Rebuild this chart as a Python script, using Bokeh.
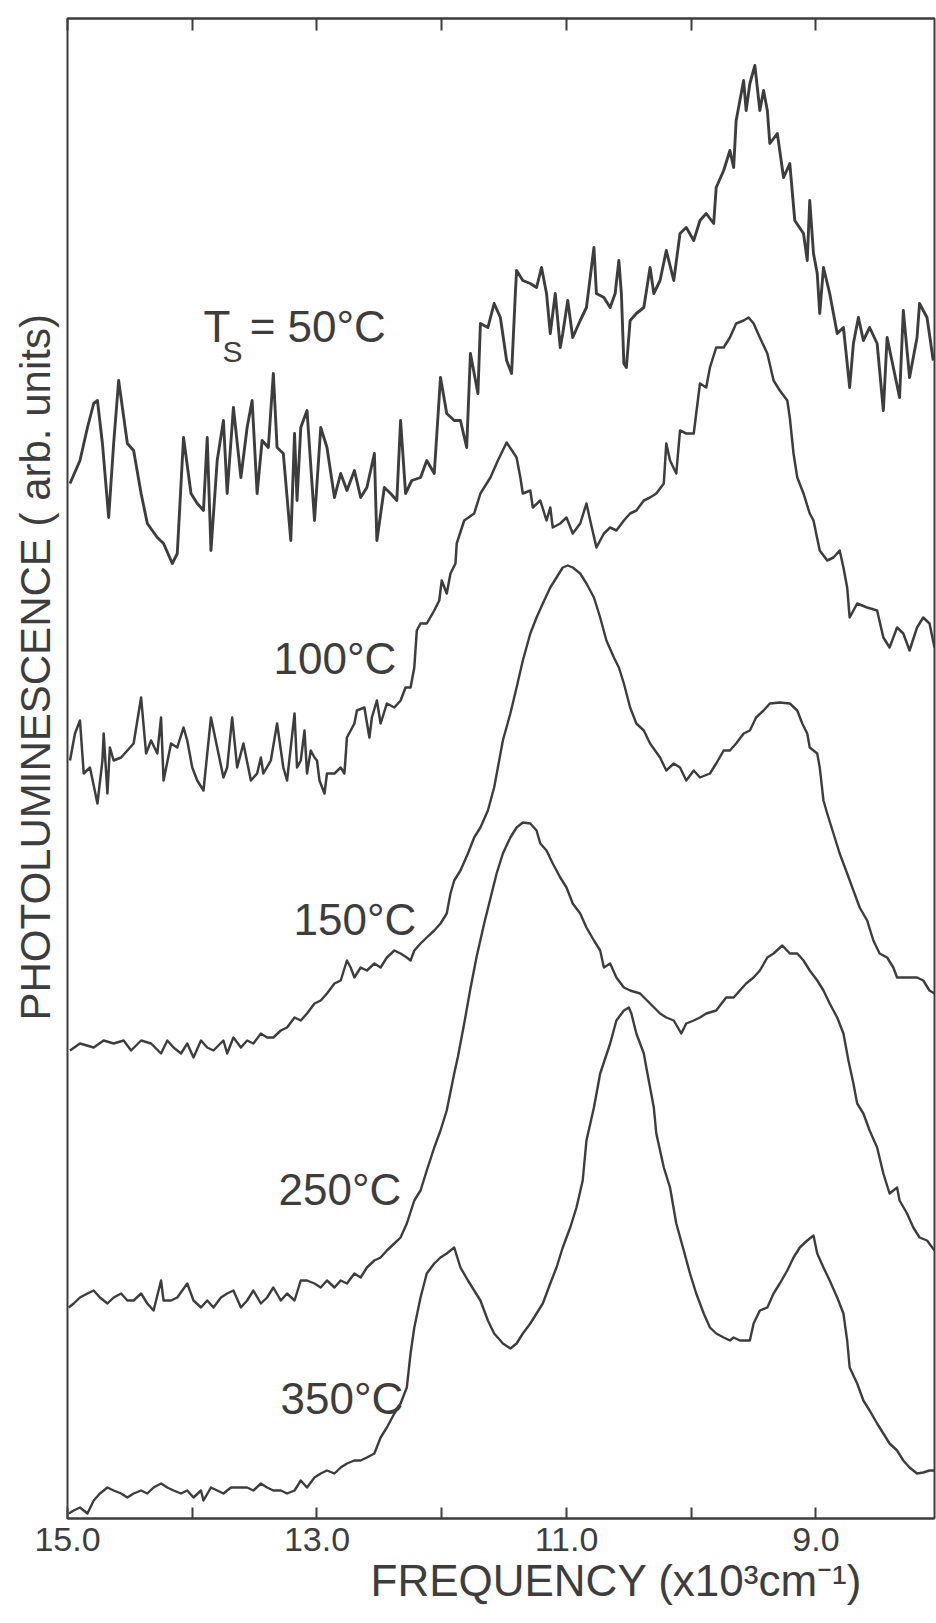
import math
from bokeh.plotting import figure
from bokeh.models import Range1d, LinearAxis, FixedTicker, Label, Title
from bokeh.embed import file_html
from bokeh.resources import INLINE

# ---------------- data ----------------
x_ticks = [15.0, 14.0, 13.0, 12.0, 11.0, 10.0, 9.0]
tick_labels = {15.0: "15.0", 14.0: "", 13.0: "13.0", 12.0: "", 11.0: "11.0", 10.0: "", 9.0: "9.0"}

x50 = [14.98, 14.90, 14.84, 14.79, 14.76, 14.72, 14.67, 14.63, 14.59, 14.52, 14.47, 14.41, 14.36, 14.28,
       14.23, 14.16, 14.12, 14.07, 14.01, 13.96, 13.91, 13.88, 13.85, 13.80, 13.75, 13.72, 13.67, 13.61,
       13.56, 13.52, 13.48, 13.44, 13.39, 13.35, 13.32, 13.27, 13.21, 13.18, 13.16, 13.13, 13.08, 13.02,
       12.97, 12.92, 12.86, 12.81, 12.76, 12.70, 12.65, 12.60, 12.54, 12.52, 12.46, 12.41, 12.36, 12.33,
       12.29, 12.24, 12.17, 12.12, 12.06, 12.01, 11.96, 11.90, 11.85, 11.80, 11.77, 11.71, 11.69, 11.63,
       11.58, 11.53, 11.48, 11.44, 11.41, 11.40, 11.35, 11.29, 11.24, 11.20, 11.16, 11.13, 11.09, 11.05,
       11.03, 10.99, 10.95, 10.89, 10.84, 10.78, 10.76, 10.70, 10.65, 10.61, 10.58, 10.56, 10.54, 10.52,
       10.49, 10.44, 10.38, 10.33, 10.30, 10.25, 10.20, 10.14, 10.09, 10.04, 9.98, 9.93, 9.88, 9.82,
       9.80, 9.74, 9.69, 9.66, 9.64, 9.58, 9.56, 9.53, 9.49, 9.45, 9.42, 9.39, 9.37, 9.31, 9.26, 9.21,
       9.17, 9.10, 9.07, 9.05, 9.02, 8.99, 8.97, 8.94, 8.89, 8.83, 8.78, 8.73, 8.70, 8.66, 8.62, 8.57,
       8.51, 8.46, 8.43, 8.38, 8.33, 8.30, 8.25, 8.19, 8.17, 8.11, 8.06]
y50 = [10.35, 10.58, 10.91, 11.15, 11.18, 10.75, 10.01, 10.75, 11.38, 10.75, 10.68, 10.25, 9.95, 9.81,
       9.75, 9.55, 9.65, 10.81, 10.25, 10.15, 10.08, 10.81, 9.68, 10.58, 10.98, 10.25, 11.11, 10.41,
       10.91, 11.18, 10.25, 10.78, 10.71, 11.45, 10.71, 10.65, 9.78, 10.85, 10.18, 10.91, 11.08, 9.98,
       10.91, 10.71, 10.21, 10.45, 10.28, 10.48, 10.21, 10.31, 10.65, 9.78, 10.31, 10.25, 10.18, 10.98,
       10.25, 10.38, 10.41, 10.58, 10.45, 11.41, 11.05, 10.98, 10.98, 10.71, 11.65, 11.25, 11.95, 11.91,
       12.15, 12.01, 11.58, 11.45, 12.25, 12.48, 12.38, 12.35, 12.31, 12.51, 12.25, 11.85, 12.25, 11.71,
       11.85, 12.18, 11.81, 11.98, 12.11, 12.71, 12.25, 12.21, 12.11, 12.25, 12.58, 12.25, 11.55, 11.51,
       11.98, 12.05, 12.11, 12.51, 12.25, 12.38, 12.68, 12.38, 12.85, 12.91, 12.78, 12.98, 13.05, 12.95,
       13.31, 13.48, 13.68, 13.51, 13.98, 14.38, 14.08, 14.35, 14.53, 14.08, 14.28, 14.08, 13.75, 13.85,
       13.41, 13.55, 12.98, 12.85, 12.58, 13.18, 12.65, 12.45, 12.05, 12.51, 12.25, 11.85, 11.91, 11.31,
       11.75, 12.01, 11.78, 11.91, 11.75, 11.08, 11.81, 11.51, 11.21, 12.08, 11.41, 11.81, 12.15, 12.01,
       11.58]

x100 = [14.98, 14.94, 14.90, 14.87, 14.82, 14.76, 14.72, 14.71, 14.68, 14.66, 14.63, 14.57, 14.52, 14.47,
        14.41, 14.37, 14.33, 14.28, 14.25, 14.23, 14.17, 14.12, 14.07, 14.04, 14.00, 13.96, 13.91, 13.85,
        13.80, 13.75, 13.72, 13.68, 13.64, 13.59, 13.53, 13.48, 13.45, 13.43, 13.37, 13.32, 13.27, 13.24,
        13.18, 13.16, 13.13, 13.10, 13.08, 13.05, 13.02, 13.00, 12.98, 12.94, 12.92, 12.86, 12.81, 12.78,
        12.76, 12.70, 12.68, 12.62, 12.58, 12.56, 12.52, 12.49, 12.44, 12.38, 12.33, 12.29, 12.25, 12.22,
        12.20, 12.17, 12.12, 12.06, 12.02, 12.00, 11.96, 11.93, 11.89, 11.88, 11.82, 11.74, 11.69, 11.61,
        11.55, 11.48, 11.40, 11.37, 11.35, 11.29, 11.27, 11.21, 11.16, 11.13, 11.11, 11.05, 11.00, 10.95,
        10.89, 10.84, 10.81, 10.76, 10.70, 10.65, 10.60, 10.54, 10.49, 10.44, 10.38, 10.33, 10.28, 10.22,
        10.20, 10.17, 10.12, 10.09, 10.04, 9.98, 9.96, 9.93, 9.88, 9.85, 9.80, 9.74, 9.69, 9.64, 9.58,
        9.54, 9.50, 9.45, 9.39, 9.34, 9.29, 9.23, 9.21, 9.18, 9.15, 9.10, 9.05, 9.02, 8.97, 8.91, 8.86,
        8.81, 8.78, 8.75, 8.73, 8.67, 8.59, 8.51, 8.46, 8.41, 8.35, 8.30, 8.25, 8.19, 8.14, 8.09, 8.05]
y100 = [7.58, 7.85, 7.98, 7.45, 7.51, 7.15, 7.58, 7.85, 7.25, 7.71, 7.58, 7.61, 7.68, 7.75,
        8.21, 7.65, 7.78, 7.65, 8.01, 7.38, 7.75, 7.71, 7.91, 7.78, 7.51, 7.38, 7.28, 8.01,
        7.71, 7.41, 7.51, 8.01, 7.51, 7.75, 7.38, 7.45, 7.61, 7.45, 7.58, 7.95, 7.51, 7.38,
        8.05, 7.51, 7.58, 7.88, 7.45, 7.68, 7.61, 7.58, 7.38, 7.25, 7.45, 7.45, 7.51, 7.45,
        7.81, 7.95, 8.08, 8.11, 7.81, 8.01, 8.18, 7.95, 8.15, 8.11, 8.18, 8.31, 8.31, 8.51,
        8.88, 8.95, 8.95, 9.08, 9.18, 9.38, 9.25, 9.45, 9.55, 9.75, 9.98, 10.05, 10.25, 10.41,
        10.58, 10.76, 10.61, 10.41, 10.25, 10.28, 10.11, 10.18, 9.98, 10.11, 9.91, 9.95, 10.01, 9.85,
        9.95, 10.15, 9.98, 9.71, 9.85, 9.91, 9.88, 9.98, 10.05, 10.08, 10.18, 10.21, 10.25, 10.35,
        10.75, 10.58, 10.45, 10.88, 10.85, 10.85, 11.05, 11.35, 11.31, 11.51, 11.71, 11.71, 11.81, 11.95, 11.98,
        12.01, 11.95, 11.81, 11.65, 11.38, 11.28, 11.18, 11.01, 10.65, 10.41, 10.25, 10.05, 9.98, 9.68, 9.58, 9.61,
        9.68, 9.51, 9.31, 9.01, 9.15, 9.11, 9.08, 8.81, 8.71, 8.91, 8.85, 8.68, 8.91, 9.01, 8.95, 8.71]

x150 = [14.98, 14.90, 14.79, 14.71, 14.63, 14.55, 14.49, 14.41, 14.33, 14.25, 14.20, 14.15, 14.09, 14.04,
        13.99, 13.93, 13.88, 13.83, 13.75, 13.72, 13.67, 13.61, 13.56, 13.51, 13.45, 13.40, 13.35, 13.29,
        13.24, 13.18, 13.13, 13.08, 13.02, 12.97, 12.92, 12.86, 12.81, 12.76, 12.73, 12.70, 12.65, 12.60,
        12.54, 12.49, 12.44, 12.38, 12.33, 12.28, 12.25, 12.22, 12.17, 12.12, 12.06, 12.01, 11.96, 11.93,
        11.90, 11.85, 11.79, 11.74, 11.69, 11.63, 11.58, 11.55, 11.51, 11.45, 11.40, 11.35, 11.29, 11.24,
        11.19, 11.13, 11.08, 11.03, 10.99, 10.95, 10.89, 10.84, 10.78, 10.73, 10.68, 10.62, 10.58, 10.54,
        10.49, 10.44, 10.38, 10.33, 10.25, 10.20, 10.14, 10.09, 10.04, 9.98, 9.93, 9.85, 9.80, 9.74, 9.69,
        9.64, 9.58, 9.53, 9.48, 9.42, 9.37, 9.29, 9.21, 9.15, 9.11, 9.07, 9.05, 8.99, 8.97, 8.94, 8.91,
        8.86, 8.81, 8.75, 8.70, 8.65, 8.59, 8.54, 8.49, 8.43, 8.38, 8.35, 8.27, 8.19, 8.14, 8.09, 8.05]
y150 = [4.68, 4.75, 4.71, 4.78, 4.75, 4.78, 4.68, 4.78, 4.75, 4.65, 4.78, 4.71, 4.65, 4.75,
        4.61, 4.78, 4.71, 4.68, 4.78, 4.65, 4.81, 4.71, 4.78, 4.75, 4.85, 4.81, 4.81, 4.88,
        4.91, 5.01, 4.98, 5.05, 5.15, 5.18, 5.25, 5.35, 5.38, 5.58, 5.51, 5.41, 5.51, 5.48,
        5.55, 5.51, 5.61, 5.68, 5.65, 5.61, 5.58, 5.68, 5.75, 5.81, 5.88, 5.95, 6.05, 6.25,
        6.38, 6.48, 6.65, 6.81, 6.91, 7.08, 7.31, 7.51, 7.78, 8.05, 8.31, 8.58, 8.85, 9.01,
        9.15, 9.31, 9.41, 9.51, 9.53, 9.51, 9.45, 9.35, 9.21, 9.01, 8.78, 8.61, 8.51, 8.35,
        8.11, 7.95, 7.88, 7.75, 7.61, 7.48, 7.55, 7.51, 7.38, 7.48, 7.41, 7.45, 7.55, 7.68, 7.68,
        7.75, 7.85, 7.88, 8.01, 8.08, 8.15, 8.16, 8.15, 8.08, 7.95, 7.85, 7.71, 7.65, 7.51, 7.18, 7.05,
        6.85, 6.65, 6.45, 6.28, 6.11, 5.98, 5.78, 5.65, 5.61, 5.51, 5.41, 5.41, 5.41, 5.38, 5.28, 5.25]

x250 = [14.99, 14.95, 14.90, 14.84, 14.79, 14.74, 14.68, 14.63, 14.57, 14.52, 14.47, 14.41, 14.36, 14.31,
        14.25, 14.23, 14.17, 14.12, 14.04, 13.99, 13.93, 13.88, 13.83, 13.77, 13.72, 13.67, 13.61, 13.56,
        13.51, 13.45, 13.40, 13.35, 13.29, 13.24, 13.18, 13.13, 13.08, 13.02, 12.97, 12.92, 12.86, 12.81,
        12.76, 12.70, 12.65, 12.60, 12.54, 12.49, 12.44, 12.38, 12.33, 12.28, 12.22, 12.17, 12.12, 12.06,
        12.01, 11.96, 11.90, 11.87, 11.82, 11.77, 11.72, 11.66, 11.61, 11.56, 11.51, 11.45, 11.40, 11.35,
        11.29, 11.24, 11.21, 11.16, 11.11, 11.05, 11.00, 10.95, 10.89, 10.84, 10.78, 10.73, 10.70, 10.65,
        10.60, 10.54, 10.49, 10.41, 10.33, 10.25, 10.20, 10.14, 10.08, 10.04, 9.98, 9.93, 9.88, 9.80,
        9.72, 9.66, 9.61, 9.56, 9.50, 9.45, 9.39, 9.34, 9.27, 9.21, 9.15, 9.10, 9.05, 8.99, 8.94, 8.89,
        8.83, 8.78, 8.74, 8.70, 8.67, 8.62, 8.57, 8.51, 8.46, 8.41, 8.35, 8.33, 8.27, 8.22, 8.17, 8.11, 8.05]
y250 = [2.11, 2.15, 2.21, 2.25, 2.28, 2.21, 2.15, 2.21, 2.25, 2.18, 2.18, 2.25, 2.15, 2.08,
        2.38, 2.18, 2.18, 2.21, 2.35, 2.18, 2.11, 2.18, 2.11, 2.21, 2.25, 2.28, 2.11, 2.18,
        2.28, 2.15, 2.21, 2.31, 2.18, 2.25, 2.18, 2.38, 2.38, 2.35, 2.31, 2.38, 2.31, 2.38,
        2.35, 2.45, 2.41, 2.51, 2.58, 2.61, 2.68, 2.75, 2.81, 2.95, 3.18, 3.28, 3.48, 3.71,
        3.88, 4.08, 4.45, 4.62, 4.95, 5.30, 5.62, 5.95, 6.20, 6.45, 6.65, 6.81, 6.91, 6.96,
        6.95, 6.88, 6.75, 6.68, 6.55, 6.41, 6.31, 6.15, 6.05, 5.91, 5.78, 5.68, 5.51, 5.55,
        5.41, 5.31, 5.28, 5.25, 5.15, 5.05, 5.01, 4.98, 4.85, 4.95, 4.98, 5.01, 5.05, 5.08,
        5.21, 5.21, 5.28, 5.35, 5.41, 5.48, 5.61, 5.65, 5.73, 5.65, 5.65, 5.58, 5.48, 5.38, 5.28, 5.15,
        5.01, 4.85, 4.58, 4.35, 4.15, 4.05, 3.88, 3.71, 3.45, 3.25, 3.31, 3.18, 3.05, 2.91, 2.81, 2.78, 2.68]

x350 = [14.99, 14.95, 14.90, 14.84, 14.79, 14.74, 14.68, 14.63, 14.57, 14.52, 14.47, 14.41, 14.36, 14.31,
        14.25, 14.20, 14.15, 14.09, 14.04, 13.99, 13.93, 13.91, 13.85, 13.80, 13.75, 13.69, 13.61, 13.56,
        13.51, 13.45, 13.40, 13.35, 13.29, 13.24, 13.18, 13.13, 13.08, 13.02, 12.97, 12.92, 12.86, 12.81,
        12.76, 12.70, 12.65, 12.60, 12.54, 12.49, 12.44, 12.38, 12.33, 12.28, 12.25, 12.22, 12.17, 12.12,
        12.06, 12.01, 11.96, 11.90, 11.85, 11.79, 11.74, 11.69, 11.63, 11.58, 11.53, 11.51, 11.45, 11.40,
        11.35, 11.29, 11.24, 11.19, 11.13, 11.08, 11.03, 10.97, 10.92, 10.87, 10.84, 10.78, 10.73, 10.65,
        10.60, 10.54, 10.50, 10.48, 10.44, 10.38, 10.36, 10.30, 10.28, 10.22, 10.17, 10.12, 10.06, 10.01,
        9.96, 9.90, 9.85, 9.80, 9.74, 9.69, 9.66, 9.61, 9.53, 9.50, 9.45, 9.39, 9.34, 9.29, 9.23, 9.18,
        9.13, 9.07, 9.02, 8.99, 8.94, 8.89, 8.83, 8.78, 8.75, 8.73, 8.67, 8.62, 8.57, 8.51, 8.46, 8.41,
        8.35, 8.30, 8.25, 8.19, 8.14, 8.09, 8.05]
y350 = [0.05, 0.08, 0.11, 0.05, 0.18, 0.25, 0.31, 0.28, 0.25, 0.21, 0.25, 0.28, 0.25, 0.31,
        0.35, 0.31, 0.28, 0.25, 0.28, 0.21, 0.28, 0.18, 0.31, 0.28, 0.25, 0.31, 0.31, 0.31,
        0.28, 0.35, 0.31, 0.28, 0.28, 0.25, 0.28, 0.38, 0.31, 0.41, 0.45, 0.48, 0.45, 0.51,
        0.55, 0.58, 0.58, 0.61, 0.65, 0.81, 0.91, 1.05, 1.15, 1.31, 1.65, 1.91, 2.21, 2.45,
        2.55, 2.61, 2.65, 2.71, 2.51, 2.38, 2.28, 2.18, 1.98, 1.85, 1.78, 1.75, 1.70, 1.75,
        1.85, 1.95, 2.05, 2.15, 2.35, 2.51, 2.71, 2.91, 3.11, 3.38, 3.78, 4.11, 4.45, 4.75,
        4.98, 5.08, 5.11, 5.05, 4.85, 4.65, 4.51, 4.11, 3.85, 3.51, 3.31, 2.95, 2.68, 2.45,
        2.25, 2.05, 1.91, 1.85, 1.81, 1.78, 1.81, 1.78, 1.78, 1.95, 2.08, 2.11, 2.25, 2.35, 2.48, 2.61,
        2.71, 2.78, 2.83, 2.65, 2.51, 2.38, 2.21, 2.05, 1.78, 1.51, 1.35, 1.18, 1.08, 0.95, 0.85, 0.75,
        0.68, 0.58, 0.51, 0.45, 0.46, 0.48, 0.48]

curve_labels = ["100°C", "150°C", "250°C", "350°C"]
x_title = "FREQUENCY (x10³cm⁻¹)"
y_title = "PHOTOLUMINESCENCE ( arb. units)"

# ---------------- styling ----------------
INK = "#3d3d3d"
FONT = "Liberation Sans"

p = figure(width=936, height=1623,
           x_range=Range1d(15.0, 8.05), y_range=Range1d(0.0, 15.0),
           output_backend="svg", toolbar_location=None,
           x_axis_location="below", y_axis_location=None,
           min_border_left=67, min_border_right=2, min_border_top=18, min_border_bottom=105)
p.grid.visible = False
p.background_fill_color = "white"
p.border_fill_color = "white"
p.outline_line_color = INK
p.outline_line_width = 2

ax = p.xaxis[0]
ax.ticker = FixedTicker(ticks=x_ticks)
ax.major_label_overrides = tick_labels
ax.major_tick_in = 11
ax.major_tick_out = 0
ax.minor_tick_line_color = None
ax.axis_line_color = INK
ax.axis_line_width = 2
ax.major_tick_line_color = INK
ax.major_tick_line_width = 2
ax.major_label_text_font = FONT
ax.major_label_text_font_size = "34px"
ax.major_label_text_color = INK
ax.major_label_standoff = 9

top = LinearAxis(ticker=FixedTicker(ticks=x_ticks),
                 major_label_overrides={t: "" for t in x_ticks},
                 major_label_text_font_size="0px", major_label_standoff=0,
                 major_tick_in=12, major_tick_out=0, minor_tick_line_color=None,
                 axis_line_color=INK, axis_line_width=2,
                 major_tick_line_color=INK, major_tick_line_width=2)
p.add_layout(top, "above")

# axis titles (placed off-centre as in the original)
p.add_layout(Title(text=x_title, align="left", offset=303, standoff=0,
                   text_font=FONT, text_font_size="44px", text_font_style="normal",
                   text_color=INK), "below")
p.add_layout(Title(text=y_title, align="left", offset=498, standoff=18,
                   text_font=FONT, text_font_size="42px", text_font_style="normal",
                   text_color=INK), "left")

for xs, ys, w in [(x50, y50, 2.9), (x100, y100, 2.5), (x150, y150, 2.4), (x250, y250, 2.4), (x350, y350, 2.4)]:
    p.line(xs, ys, line_color=INK, line_width=w, line_join="round")

def lab(x, y, text, size="44px", **kw):
    p.add_layout(Label(x=x, y=y, text=text, text_font=FONT, text_font_size=size,
                       text_color=INK, **kw))

# curve labels
lab(13.91, 11.68, "T")
lab(13.757, 11.51, "S", size="30px")
lab(13.54, 11.68, "= 50°C")
for (lx, ly), t in zip([(13.348, 8.36), (13.188, 5.75), (13.308, 3.05), (13.292, 0.96)], curve_labels):
    lab(lx, ly, t)

open("out.html", "w").write(file_html(p, INLINE))
